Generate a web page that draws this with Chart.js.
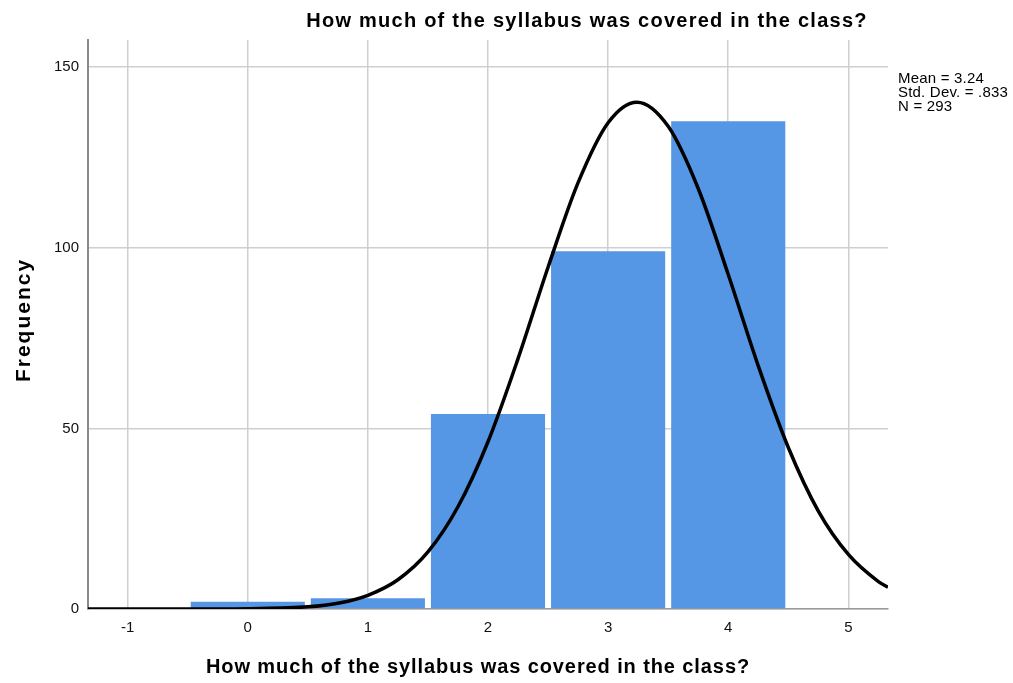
<!DOCTYPE html>
<html>
<head>
  <title>Histogram</title>
  <script src="https://cdn.jsdelivr.net/npm/chart.js@4.4.1/dist/chart.umd.min.js"></script>
  <style>
    body { margin: 0; background: #fff; }
  </style>
</head>
<body>
  <canvas id="histChart" width="1013" height="683"></canvas>
  <script>
    // histogram bins and counts
    const binValues = [0, 1, 2, 3, 4];
    const binCounts = [2, 3, 54, 99, 135];

    // normal curve
    const curveX = [-1.33, -1, -0.5, 0, 0.5, 0.75, 1, 1.25, 1.5, 1.75, 2, 2.25, 2.5, 2.75, 3, 3.24, 3.5, 3.75, 4, 4.25, 4.5, 4.75, 5, 5.25, 5.33];
    const curveY = [0, 0, 0, 0.1, 0.6, 1.6, 3.8, 8.1, 15.8, 28.3, 46.3, 69.3, 94.6, 118, 134.6, 140.3, 133.6, 116.4, 92.6, 67.3, 44.7, 27.1, 15.1, 7.6, 6.0];

    const xTicks = [-1, 0, 1, 2, 3, 4, 5];
    const yTicks = [0, 50, 100, 150];

    const chartTitle = 'How much of the syllabus was covered in the class?';
    const xTitle = 'How much of the syllabus was covered in the class?';
    const yTitle = 'Frequency';
    const statLines = ['Mean = 3.24', 'Std. Dev. = .833', 'N = 293'];

    const FONT = '"Liberation Sans", Arial, sans-serif';

    const textPlugin = {
      id: 'spssText',
      afterDraw(chart) {
        const ctx = chart.ctx;
        ctx.save();
        ctx.fillStyle = '#000';
        ctx.textBaseline = 'middle';
        ctx.textAlign = 'center';

        ctx.font = 'bold 20px ' + FONT;
        ctx.letterSpacing = '1.25px';
        ctx.fillText(chartTitle, 587, 21);
        ctx.letterSpacing = '0.9px';
        ctx.fillText(xTitle, 478, 667);

        ctx.save();
        ctx.font = 'bold 21px ' + FONT;
        ctx.letterSpacing = '2px';
        ctx.translate(24, 320);
        ctx.rotate(-Math.PI / 2);
        ctx.fillText(yTitle, 0, 0);
        ctx.restore();

        ctx.font = '15px ' + FONT;
        ctx.letterSpacing = '0.2px';
        ctx.textAlign = 'left';
        statLines.forEach((line, i) => {
          ctx.fillText(line, 898, 79 + i * 14);
        });
        ctx.restore();
      }
    };

    const ctx = document.getElementById('histChart').getContext('2d');
    const histChart = new Chart(ctx, {
      type: 'bar',
      data: {
        datasets: [{
          type: 'line',
          data: curveX.map((x, i) => ({ x: x, y: curveY[i] })),
          borderColor: '#000',
          borderWidth: 3.5,
          pointRadius: 0,
          cubicInterpolationMode: 'monotone',
          order: 1
        }, {
          type: 'bar',
          data: binValues.map((x, i) => ({ x: x, y: binCounts[i] })),
          backgroundColor: '#5596e5',
          barPercentage: 0.95,
          categoryPercentage: 1,
          order: 2
        }]
      },
      options: {
        responsive: false,
        animation: false,
        layout: { padding: { top: 40, right: 125, left: 0, bottom: 0 } },
        plugins: {
          legend: { display: false },
          tooltip: { enabled: false }
        },
        scales: {
          x: {
            type: 'linear',
            offset: false,
            min: -1.33,
            max: 5.33,
            afterBuildTicks: s => { s.ticks = xTicks.map(v => ({ value: v })); },
            afterFit: s => { s.height = 74; },
            grid: { color: '#cfcfcf', lineWidth: 1.5, drawTicks: false, offset: false },
            border: { color: '#9a9a9a', width: 1.5 },
            ticks: { color: '#111', font: { size: 15, family: FONT }, padding: 10, maxRotation: 0 }
          },
          y: {
            min: 0,
            max: 157.5,
            afterBuildTicks: s => { s.ticks = yTicks.map(v => ({ value: v })); },
            afterFit: s => { s.width = 88; },
            grid: { color: '#cfcfcf', lineWidth: 1.5, drawTicks: false },
            border: { color: '#8a8a8a', width: 2 },
            ticks: { color: '#111', font: { size: 15, family: FONT }, padding: 9 }
          }
        }
      },
      plugins: [textPlugin]
    });
  </script>
</body>
</html>
